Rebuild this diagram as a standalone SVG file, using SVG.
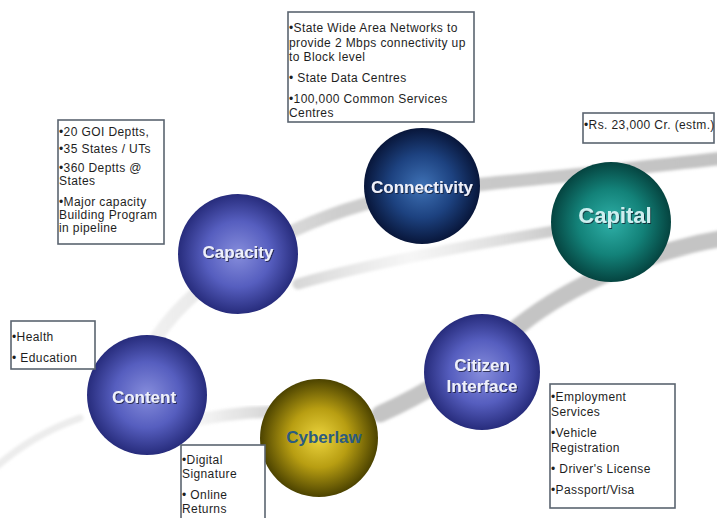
<svg xmlns="http://www.w3.org/2000/svg" width="717" height="518" viewBox="0 0 717 518">
  <defs>
    <style>
      .note { fill: #ffffff; stroke: #5b6470; stroke-width: 1.6; }
      .nt { font-family: "Liberation Sans", Arial, sans-serif; font-size: 12px; letter-spacing: 0.4px; fill: #1e1e1e; }
      .lbl { font-family: "Liberation Sans", Arial, sans-serif; font-weight: bold; font-size: 17px; text-anchor: middle; fill: #eef0fa; filter: url(#shade); }
      .band { fill: none; stroke-linecap: round; filter: url(#soft); }
    </style>
    <filter id="soft" x="-10%" y="-50%" width="120%" height="200%">
      <feGaussianBlur stdDeviation="1.6"/>
    </filter>
    <filter id="shade" x="-20%" y="-40%" width="140%" height="180%">
      <feDropShadow dx="1" dy="1" stdDeviation="0.6" flood-color="#101020" flood-opacity="0.7"/>
    </filter>
    <radialGradient id="gBlue" cx="50%" cy="50%" r="50%">
      <stop offset="0" stop-color="#868ddc"/>
      <stop offset="0.55" stop-color="#565ebf"/>
      <stop offset="1" stop-color="#272c7c"/>
    </radialGradient>
    <radialGradient id="gNavy" cx="50%" cy="50%" r="50%">
      <stop offset="0" stop-color="#3f72b6"/>
      <stop offset="0.55" stop-color="#1d4280"/>
      <stop offset="1" stop-color="#08163a"/>
    </radialGradient>
    <radialGradient id="gTeal" cx="50%" cy="50%" r="50%">
      <stop offset="0" stop-color="#2fb0a8"/>
      <stop offset="0.55" stop-color="#138279"/>
      <stop offset="1" stop-color="#054440"/>
    </radialGradient>
    <radialGradient id="gOlive" cx="50%" cy="50%" r="50%">
      <stop offset="0" stop-color="#ecd43e"/>
      <stop offset="0.5" stop-color="#b89e12"/>
      <stop offset="1" stop-color="#4c4300"/>
    </radialGradient>
    <linearGradient id="fadeL" gradientUnits="userSpaceOnUse" x1="170" y1="0" x2="300" y2="0">
      <stop offset="0" stop-color="#d4d4d4" stop-opacity="0"/>
      <stop offset="1" stop-color="#c6c6c6"/>
    </linearGradient>
    <linearGradient id="fadeIn" gradientUnits="userSpaceOnUse" x1="290" y1="0" x2="560" y2="0">
      <stop offset="0" stop-color="#d0d0d0" stop-opacity="0.9"/>
      <stop offset="0.45" stop-color="#dcdcdc" stop-opacity="0.25"/>
      <stop offset="1" stop-color="#c8c8c8"/>
    </linearGradient>
    <linearGradient id="fadeUp" gradientUnits="userSpaceOnUse" x1="140" y1="0" x2="717" y2="0">
      <stop offset="0" stop-color="#dedede" stop-opacity="0.4"/>
      <stop offset="0.35" stop-color="#cdcdcd"/>
      <stop offset="1" stop-color="#c2c2c2"/>
    </linearGradient>
  </defs>

  <rect width="717" height="518" fill="#ffffff"/>

  <!-- orbit bands running behind the spheres -->
  <g id="ring">
    <path class="band" stroke="url(#fadeUp)" stroke-width="13" d="M 150 348 C 185 285, 280 225, 380 200 C 450 184, 540 180, 600 172 C 650 166, 690 162, 725 158"/>
    <path class="band" stroke="url(#fadeIn)" stroke-width="11" d="M 298 284 C 360 266, 440 250, 560 230"/>
    <path class="band" stroke="#c4c4c4" stroke-width="17" d="M 725 238 C 650 250, 570 285, 520 325 C 480 358, 430 392, 380 414"/>
    <path class="band" stroke="url(#fadeL)" stroke-width="12" d="M 175 424 C 215 416, 250 410, 300 412"/>
    <path class="band" stroke="#ececec" stroke-width="7" d="M -5 468 C 15 450, 40 432, 80 418"/>
  </g>

  <!-- Capacity -->
  <g id="capacity">
    <circle cx="238" cy="254" r="60" fill="url(#gBlue)"/>
    <text class="lbl" x="238" y="258">Capacity</text>
    <rect class="note" x="58" y="120" width="106" height="124"/>
    <text class="nt" x="59" y="136">•20 GOI Deptts,</text>
    <text class="nt" x="59" y="153">•35 States / UTs</text>
    <text class="nt" x="59" y="172">•360 Deptts @</text>
    <text class="nt" x="59" y="185">States</text>
    <text class="nt" x="59" y="206">•Major capacity</text>
    <text class="nt" x="59" y="219">Building Program</text>
    <text class="nt" x="59" y="232">in pipeline</text>
  </g>

  <!-- Connectivity -->
  <g id="connectivity">
    <circle cx="422" cy="186" r="58" fill="url(#gNavy)"/>
    <text class="lbl" x="422" y="193">Connectivity</text>
    <rect class="note" x="288" y="12" width="186" height="110"/>
    <text class="nt" x="289" y="32">•State Wide Area Networks to</text>
    <text class="nt" x="289" y="47">provide 2 Mbps connectivity up</text>
    <text class="nt" x="289" y="61">to Block level</text>
    <text class="nt" x="289" y="82">• State Data Centres</text>
    <text class="nt" x="289" y="103">•100,000 Common Services</text>
    <text class="nt" x="289" y="117">Centres</text>
  </g>

  <!-- Capital -->
  <g id="capital">
    <circle cx="611" cy="222" r="60" fill="url(#gTeal)"/>
    <text class="lbl" x="615" y="223" style="font-size:22px; fill:#cdeff0">Capital</text>
    <rect class="note" x="583" y="113" width="131" height="30"/>
    <text class="nt" x="584" y="129">•Rs. 23,000 Cr. (estm.)</text>
  </g>

  <!-- Citizen Interface -->
  <g id="citizen-interface">
    <circle cx="482" cy="372" r="58" fill="url(#gBlue)"/>
    <text class="lbl" x="482" y="371">Citizen</text>
    <text class="lbl" x="482" y="392">Interface</text>
    <rect class="note" x="550" y="384" width="125" height="124"/>
    <text class="nt" x="551" y="401">•Employment</text>
    <text class="nt" x="551" y="416">Services</text>
    <text class="nt" x="551" y="437">•Vehicle</text>
    <text class="nt" x="551" y="452">Registration</text>
    <text class="nt" x="551" y="473">• Driver's License</text>
    <text class="nt" x="551" y="494">•Passport/Visa</text>
  </g>

  <!-- Content -->
  <g id="content">
    <circle cx="147" cy="395" r="60" fill="url(#gBlue)"/>
    <text class="lbl" x="144" y="403">Content</text>
    <rect class="note" x="11" y="321" width="84" height="48"/>
    <text class="nt" x="12" y="341">•Health</text>
    <text class="nt" x="12" y="362">• Education</text>
  </g>

  <!-- Cyberlaw -->
  <g id="cyberlaw">
    <circle cx="319" cy="438" r="59" fill="url(#gOlive)"/>
    <text class="lbl" x="324" y="443" style="fill:#2b5b80; filter:none">Cyberlaw</text>
    <rect class="note" x="181" y="445" width="84" height="80"/>
    <text class="nt" x="182" y="464">•Digital</text>
    <text class="nt" x="182" y="478">Signature</text>
    <text class="nt" x="182" y="499">• Online</text>
    <text class="nt" x="182" y="513">Returns</text>
  </g>
</svg>
